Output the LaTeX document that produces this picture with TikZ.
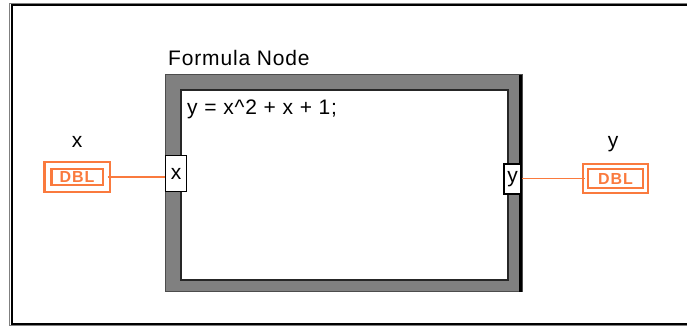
\documentclass[tikz,border=0pt]{standalone}
\usepackage{fontspec}
\setmainfont{Liberation Sans}
\definecolor{lvorange}{RGB}{250,122,62}
\definecolor{lvgray}{RGB}{128,128,128}
\begin{document}
\begin{tikzpicture}[x=1pt,y=-1pt,
  lbl/.style={font=\fontsize{21}{22}\selectfont\addfontfeature{LetterSpace=4}, inner sep=0pt},
  dblbox/.style={draw=lvorange, double=white, text=lvorange, font=\bfseries\fontsize{16}{16}\selectfont\addfontfeature{LetterSpace=6}, inner sep=0pt, minimum height=23pt},
  wire/.style={draw=lvorange, line width=1.5pt}
]
\useasboundingbox (0,0) rectangle (687,327);
% outer panel frame
\draw[lvgray, line width=1pt] (687,3) -- (9.5,3) -- (9.5,325.5) -- (687,325.5);
\draw[black, line width=2pt] (687,5) -- (11.5,5) -- (11.5,323.5) -- (687,323.5);
% formula node frame
\node[lbl, anchor=base west] (title) at (168,65) {Formula Node};
\fill[lvgray] (165,74) rectangle (523,292);
\draw[black!70, line width=1pt] (165.5,74.5) rectangle (522.5,291.5);
\fill[black] (519,75) rectangle (522,291.5);
\fill[white] (181,90) rectangle (508,280);
\draw[black!85, line width=1.8pt] (181,90) rectangle (508,280);
\node[lbl, anchor=base west] (formula) at (187,114) {y = x\^{}2 + x + 1;};
% terminals
\node[draw=black, fill=white, line width=1pt, minimum width=21pt, minimum height=36pt, inner sep=0pt, lbl] (tx) at (176,173.5) {x};
\node[draw=black, fill=white, line width=2.5pt, minimum width=17pt, minimum height=30pt, inner sep=0pt, lbl] (ty) at (512.5,179) {y};
% controls / indicators
\node[dblbox, line width=2.5pt, double distance=4.5pt, minimum width=58.5pt] (dx) at (77,177) {DBL};
\node[dblbox, line width=1.8pt, double distance=3.2pt, minimum width=60pt, minimum height=24pt] (dy) at (615.5,178.5) {DBL};
\node[lbl, anchor=base] (lx) at (77,147) {x};
\node[lbl, anchor=base] (ly) at (613,147) {y};
% wires
\draw[wire] (dx.east) -- (tx.west |- dx.east);
\draw[wire] (ty.east |- dy.west) -- (dy.west);
\end{tikzpicture}
\end{document}
